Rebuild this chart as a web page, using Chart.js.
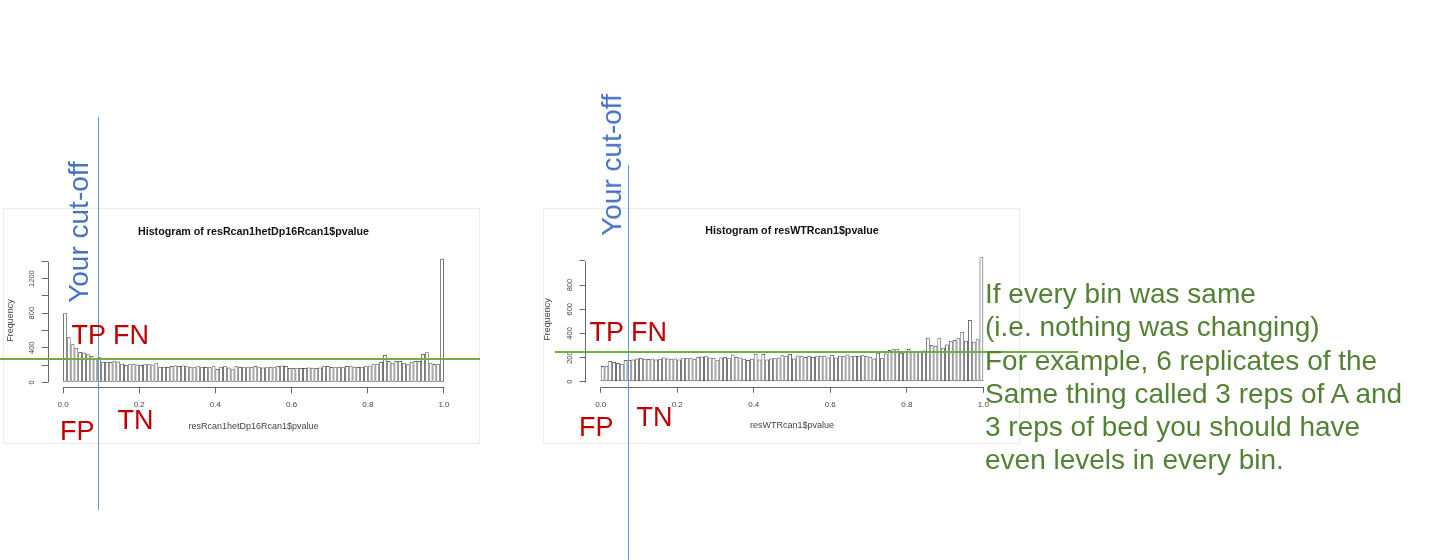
<!DOCTYPE html>
<html><head><meta charset="utf-8">
<script src="https://cdn.jsdelivr.net/npm/chart.js@4"></script>
<style>
html,body{margin:0;padding:0;background:#fff;}
body{width:1430px;height:560px;position:relative;overflow:hidden;font-family:"Liberation Sans",Arial,sans-serif;}
.box{position:absolute;border:1px solid #ececec;box-sizing:border-box;}
canvas{position:absolute;}
.vline{position:absolute;width:1px;background:#5b9bd5;}
.hline{position:absolute;height:2px;background:#70ad47;}
.red{position:absolute;color:#c00000;font-size:27px;line-height:27px;white-space:nowrap;}
.cut{position:absolute;color:#4472c4;font-size:28px;line-height:28px;white-space:nowrap;transform:translate(-50%,-50%) rotate(-90deg);}
.note{position:absolute;left:985px;top:277px;color:#548235;font-size:28px;line-height:33.3px;white-space:nowrap;}
</style></head>
<body>
<div class="box" style="left:3px;top:208px;width:477px;height:236px"></div>
<div class="box" style="left:543px;top:208px;width:477px;height:236px"></div>
<canvas id="c1" width="507" height="236" style="left:0;top:207px"></canvas>
<canvas id="c2" width="504" height="236" style="left:540px;top:207px"></canvas>

<div class="vline" style="left:98px;top:117px;height:393px"></div>
<div class="vline" style="left:628px;top:165px;height:395px"></div>
<div class="hline" style="left:0;top:358px;width:480px"></div>
<div class="hline" style="left:555px;top:351px;width:523px"></div>

<div class="cut" style="left:79px;top:231.5px">Your cut-off</div>
<div class="cut" style="left:611.7px;top:165px">Your cut-off</div>

<div class="red" style="left:71.5px;top:322px">TP FN</div>
<div class="red" style="left:60px;top:418px">FP</div>
<div class="red" style="left:117.5px;top:407px">TN</div>
<div class="red" style="left:589.5px;top:319px">TP FN</div>
<div class="red" style="left:579px;top:414px">FP</div>
<div class="red" style="left:636.5px;top:404px">TN</div>

<div class="note">If every bin was same<br>(i.e. nothing was changing)<br>For example, 6 replicates of the<br>Same thing called 3 reps of A and<br>3 reps of bed you should have<br>even levels in every bin.</div>

<script>
// ---- data ----
const binWidth = 0.01;
const leftCounts = [
  800, 520, 440, 400, 350, 345, 325, 305, 270, 290,
  238, 238, 235, 250, 240, 215, 200, 210, 215, 205,
  200, 210, 210, 205, 220, 180, 180, 178, 190, 195,
  190, 195, 185, 180, 175, 185, 180, 178, 175, 185,
  155, 180, 185, 170, 150, 185, 178, 175, 175, 180,
  190, 175, 170, 175, 180, 175, 190, 195, 190, 165,
  165, 168, 165, 165, 170, 168, 165, 170, 185, 190,
  178, 175, 180, 175, 190, 192, 180, 178, 180, 185,
  195, 210, 215, 235, 316, 246, 227, 246, 246, 227,
  208, 238, 246, 246, 327, 347, 219, 211, 208, 1430
];
const rightCounts = [
  130, 133, 171, 163, 155, 149, 180, 180, 185, 193,
  196, 190, 188, 192, 185, 190, 200, 192, 190, 192,
  185, 195, 198, 195, 190, 205, 208, 210, 200, 198,
  178, 200, 205, 195, 225, 205, 200, 190, 180, 190,
  232, 185, 229, 185, 193, 195, 200, 220, 215, 229,
  193, 218, 210, 205, 215, 205, 210, 215, 215, 200,
  222, 200, 215, 210, 225, 210, 215, 215, 220, 215,
  207, 193, 240, 195, 234, 262, 268, 272, 240, 248,
  270, 248, 250, 252, 258, 364, 305, 298, 359, 282,
  309, 339, 345, 359, 414, 339, 511, 331, 351, 1030
];
const binCenters = leftCounts.map((_, i) => +(i * binWidth + binWidth / 2).toFixed(3));
const xTickValues = [0, 0.2, 0.4, 0.6, 0.8, 1.0];
const xTickLabels = ['0.0', '0.2', '0.4', '0.6', '0.8', '1.0'];
const leftYTicks = [0, 200, 400, 600, 800, 1000, 1200, 1400];
const leftYLabels = ['0', '', '400', '', '800', '', '1200', ''];
const rightYTicks = [0, 200, 400, 600, 800, 1000];
const rightYLabels = ['0', '200', '400', '600', '800', ''];

Chart.defaults.font.family = '"Liberation Sans", Arial, sans-serif';

const rAxes = {
  id: 'rAxes',
  afterDraw(chart, args, opts) {
    const {ctx, chartArea, scales: {x, y}} = chart;
    ctx.save();
    ctx.strokeStyle = '#666';
    ctx.lineWidth = 1;
    ctx.beginPath();
    const by = Math.round(chartArea.bottom) + 0.5;
    ctx.moveTo(Math.round(x.getPixelForValue(0)) + 0.5, by);
    ctx.lineTo(Math.round(x.getPixelForValue(1)) + 0.5, by);
    const lx = Math.round(chartArea.left) + 0.5;
    ctx.moveTo(lx, Math.round(y.getPixelForValue(0)) + 0.5);
    ctx.lineTo(lx, Math.round(y.getPixelForValue(opts.yTop || 0)) + 0.5);
    ctx.stroke();
    ctx.restore();
  }
};

function makeHist(id, o) {
  const ymax = Math.max(...o.counts);
  const ext = 0.04;
  return new Chart(document.getElementById(id), {
    type: 'bar',
    data: {
      datasets: [{
        data: o.counts.map((v, i) => ({x: binCenters[i], y: v})),
        backgroundColor: 'rgba(255,255,255,0)',
        borderColor: '#444',
        borderWidth: 0.75,
        borderSkipped: false,
        inflateAmount: 0,
        barPercentage: 1,
        categoryPercentage: 1
      }]
    },
    options: {
      responsive: false, animation: false, devicePixelRatio: 1,
      layout: {padding: 0},
      plugins: {
        legend: {display: false},
        tooltip: {enabled: false},
        rAxes: {yTop: o.yTicks[o.yTicks.length - 1]},
        title: {
          display: true, text: o.title, color: '#111',
          font: {size: 10.7, weight: 'bold', lineHeight: 1.2},
          padding: {top: o.tTop, bottom: o.tBottom}
        }
      },
      scales: {
        x: {
          type: 'linear', min: -ext, max: 1 + ext, offset: false,
          afterBuildTicks: s => { s.ticks = xTickValues.map(v => ({value: v})); },
          afterFit: s => { s.height = o.xH; },
          grid: {display: true, offset: false, drawOnChartArea: false, drawTicks: true, tickLength: 6, color: '#666'},
          border: {display: false},
          ticks: {autoSkip: false, maxRotation: 0, minRotation: 0, padding: 7, color: '#444',
                  font: {size: 8}, callback: (v, i) => xTickLabels[i]},
          title: {display: true, text: o.xTitle, color: '#444', font: {size: 9, lineHeight: 1.2},
                  padding: {top: 0, bottom: o.xtPad}}
        },
        y: {
          type: 'linear', position: 'left', min: -ext * ymax, max: (1 + ext) * ymax,
          afterBuildTicks: s => { s.ticks = o.yTicks.map(v => ({value: v})); },
          afterFit: s => { s.width = o.yW; },
          grid: {display: true, drawOnChartArea: false, drawTicks: true, tickLength: 6, color: '#666'},
          border: {display: false},
          ticks: {autoSkip: false, minRotation: 90, maxRotation: 90, crossAlign: 'center',
                  padding: o.ytkPad, color: '#444', font: {size: 7.5},
                  callback: (v, i) => o.yLabels[i]},
          title: {display: true, text: 'Frequency', color: '#444', font: {size: 9, lineHeight: 1.2},
                  padding: {top: o.ytPad, bottom: 0}}
        },
        y2: {
          type: 'linear', position: 'right', display: true,
          grid: {display: false}, border: {display: false}, ticks: {display: false},
          afterFit: s => { s.width = o.yW; }
        }
      }
    },
    plugins: [rAxes]
  });
}

makeHist('c1', {
  counts: leftCounts, title: 'Histogram of resRcan1hetDp16Rcan1$pvalue',
  xTitle: 'resRcan1hetDp16Rcan1$pvalue', yTicks: leftYTicks, yLabels: leftYLabels,
  tTop: 18.6, tBottom: 15.3, xH: 55.75, yW: 47.8, xtPad: 10.6, ytPad: 4.9, ytkPad: 1.5
});
makeHist('c2', {
  counts: rightCounts, title: 'Histogram of resWTRcan1$pvalue',
  xTitle: 'resWTRcan1$pvalue', yTicks: rightYTicks, yLabels: rightYLabels,
  tTop: 17.6, tBottom: 14.9, xH: 56.3, yW: 45.4, xtPad: 11.6, ytPad: 1.9, ytkPad: 3
});
</script>
</body></html>
